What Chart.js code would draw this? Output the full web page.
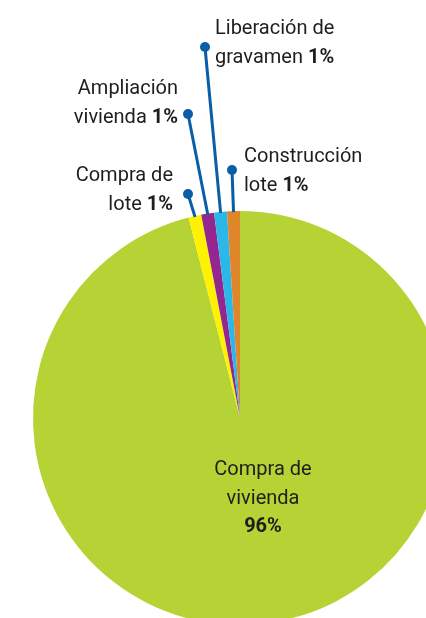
<!DOCTYPE html>
<html>
<head>
<meta charset="utf-8">
<script src="https://cdn.jsdelivr.net/npm/chart.js@4"></script>
<style>
  html, body { margin: 0; padding: 0; background: #fff; overflow: hidden; }
  #wrap { position: absolute; left: 0; top: 0; width: 480px; height: 836px; }
</style>
</head>
<body>
<div id="wrap"><canvas id="chart-destino"></canvas></div>
<script>
// Données (sens horaire à partir du haut)
const labels = ['Compra de\nvivienda', 'Compra de\nlote', 'Ampliación\nvivienda', 'Liberación de\ngravamen', 'Construcción\nlote'];
const valores = [96, 1, 1, 1, 1];
const colores = ['#b5d334', '#fff200', '#93278f', '#2bb8e8', '#e0862a'];

const FONT = "Roboto, 'Open Sans', sans-serif";
const AZUL = '#0a5ea8';
const TEXTO = '#1e1e1e';

// Position des étiquettes (x, y de la première ligne, alignement, point du trait)
const callouts = [
    { x: 263, y: 475, align: 'center', ownLine: true },
    { x: 173, y: 181, align: 'right', dot: [188, 194] },
    { x: 178, y: 94, align: 'right', dot: [188, 114] },
    { x: 215, y: 34, align: 'left', dot: [205, 47] },
    { x: 244, y: 162, align: 'left', dot: [232, 170] },
];

const etiquettesPlugin = {
    id: 'etiquettes',
    afterDraw(chart) {
        const ctx = chart.ctx;
        const arcs = chart.getDatasetMeta(0).data;
        const lh = 28.5;
        ctx.save();
        arcs.forEach((arc, i) => {
            const c = callouts[i];
            // trait de rappel
            if (c.dot) {
                const mid = (arc.startAngle + arc.endAngle) / 2;
                const ax = arc.x + Math.cos(mid) * (arc.outerRadius - 1);
                const ay = arc.y + Math.sin(mid) * (arc.outerRadius - 1);
                ctx.strokeStyle = AZUL;
                ctx.lineWidth = 3;
                ctx.beginPath();
                ctx.moveTo(c.dot[0], c.dot[1]);
                ctx.lineTo(ax, ay);
                ctx.stroke();
                ctx.fillStyle = AZUL;
                ctx.beginPath();
                ctx.arc(c.dot[0], c.dot[1], 5, 0, Math.PI * 2);
                ctx.fill();
            }
            // texte
            const lines = labels[i].split('\n');
            const pct = valores[i] + '%';
            const normal = '20px ' + FONT;
            const bold = 'bold 20px ' + FONT;
            ctx.fillStyle = TEXTO;
            ctx.textBaseline = 'alphabetic';
            lines.forEach((txt, k) => {
                const y = c.y + k * lh;
                const last = k === lines.length - 1 && !c.ownLine;
                ctx.font = normal;
                const w1 = ctx.measureText(last ? txt + ' ' : txt).width;
                ctx.font = bold;
                const w2 = last ? ctx.measureText(pct).width : 0;
                const total = w1 + w2;
                let x0 = c.x;
                if (c.align === 'right') x0 = c.x - total;
                if (c.align === 'center') x0 = c.x - total / 2;
                ctx.textAlign = 'left';
                ctx.font = normal;
                ctx.fillText(last ? txt + ' ' : txt, x0, y);
                if (last) {
                    ctx.font = bold;
                    ctx.fillText(pct, x0 + w1, y);
                }
            });
            if (c.ownLine) {
                ctx.font = 'bold 20px ' + FONT;
                ctx.textAlign = 'center';
                ctx.fillText(pct, c.x, c.y + lines.length * lh);
            }
        });
        ctx.restore();
    }
};

const ctxDestino = document.getElementById('chart-destino').getContext('2d');
new Chart(ctxDestino, {
    type: 'pie',
    data: {
        labels: labels,
        datasets: [{
            data: valores,
            backgroundColor: colores,
            borderWidth: 0,
            radius: 207,
        }],
    },
    options: {
        responsive: true,
        maintainAspectRatio: false,
        animation: false,
        layout: { padding: 0 },
        plugins: {
            legend: { display: false },
            tooltip: { enabled: false },
        },
    },
    plugins: [etiquettesPlugin],
});
</script>
</body>
</html>
